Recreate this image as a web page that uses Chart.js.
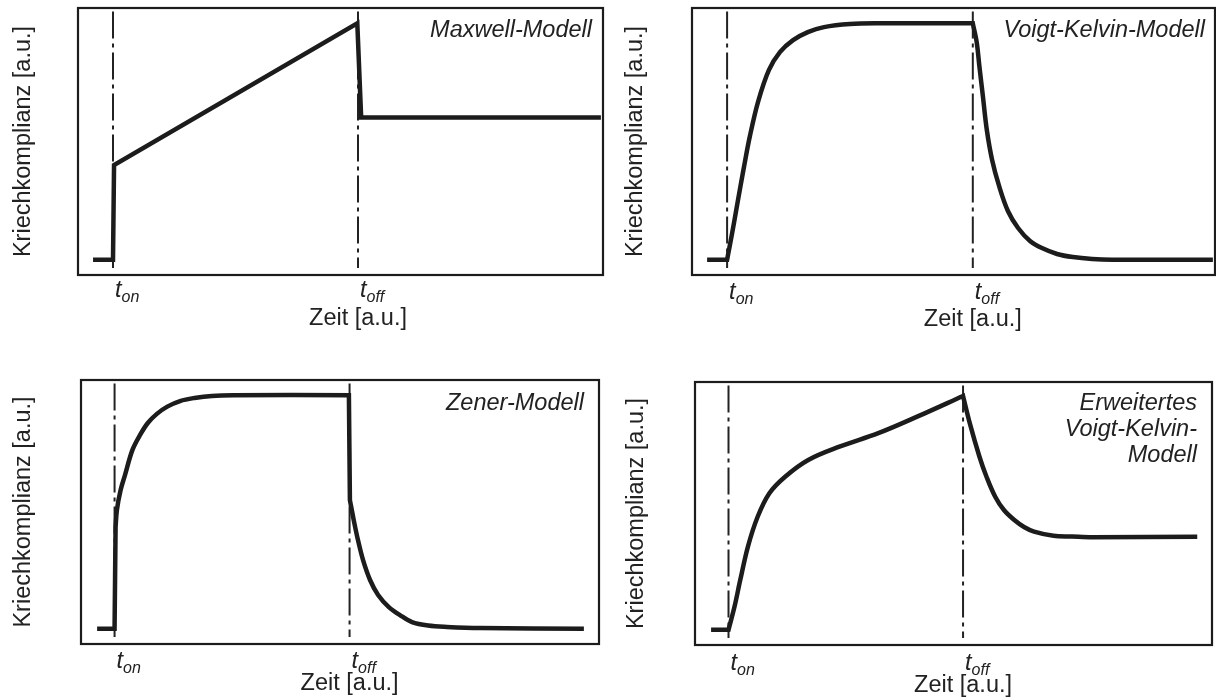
<!DOCTYPE html>
<html>
<head>
<meta charset="utf-8">
<title>Kriechkomplianz</title>
<script src="https://cdn.jsdelivr.net/npm/chart.js@4.4.0/dist/chart.umd.min.js"></script>
<style>
  body { margin: 0; background: #fff; }
  #wrap { position: relative; width: 1216px; height: 700px; overflow: hidden; }
  canvas { position: absolute; }
</style>
</head>
<body>
<div id="wrap">
  <canvas id="c1" width="608" height="340" style="left:0px;top:0px"></canvas>
  <canvas id="c2" width="608" height="340" style="left:608px;top:0px"></canvas>
  <canvas id="c3" width="608" height="360" style="left:0px;top:340px"></canvas>
  <canvas id="c4" width="608" height="360" style="left:608px;top:340px"></canvas>
</div>
<script>
// load switched on / off
var tOn = 1;
var tOff = 8;
var tickLabels = ['on', 'off'];
var xTitle = 'Zeit [a.u.]';
var yTitle = 'Kriechkomplianz [a.u.]';
var modelNames = [
    ['Maxwell-Modell'],
    ['Voigt-Kelvin-Modell'],
    ['Zener-Modell'],
    ['Erweitertes', 'Voigt-Kelvin-', 'Modell']
];

// creep curves (time / compliance in a.u.)
// corner points are listed twice so the smoothing keeps them sharp
var maxwellX = [0.43, 1.0, 1.03, 7.98, 8.09, 14.94];
var maxwellY = [0, 0, 4.0, 10.0, 6.02, 6.02];

var voigtX = [0.43, 1.0, 1.0, 1.08, 1.20, 1.31, 1.48, 1.65, 1.88, 2.19, 2.51, 2.88, 3.30, 3.76, 4.50, 5.30,
    8.0, 8.0, 8.11, 8.19, 8.29, 8.40, 8.55, 8.75, 9.0, 9.29, 9.63, 9.97, 10.4, 10.85, 11.4, 11.97, 14.84];
var voigtY = [0, 0, 0, 0.62, 1.59, 2.52, 3.92, 5.23, 6.67, 8.02, 8.79, 9.29, 9.63, 9.84, 9.97, 10.0,
    10.0, 10.0, 9.21, 8.15, 6.88, 5.48, 4.22, 3.11, 2.06, 1.34, 0.79, 0.49, 0.24, 0.11, 0.03, 0, 0];

var zenerX = [0.48, 1.0, 1.0, 1.03, 1.03, 1.07, 1.18, 1.31, 1.53, 1.76, 1.99, 2.26, 2.57, 2.95, 3.38, 3.90, 4.54,
    7.98, 7.98, 8.01, 8.01, 8.13, 8.25, 8.40, 8.61, 8.85, 9.17, 9.50, 9.86, 10.34, 10.9, 11.89, 14.98];
var zenerY = [0, 0, 0, 4.36, 4.36, 5.09, 5.94, 6.58, 7.65, 8.30, 8.81, 9.20, 9.51, 9.75, 9.88, 9.97, 10.0,
    10.0, 10.0, 5.51, 5.51, 4.61, 3.80, 2.95, 2.09, 1.45, 0.93, 0.59, 0.29, 0.14, 0.08, 0.03, 0];

var extX = [0.48, 1.0, 1.0, 1.18, 1.35, 1.58, 1.87, 2.22, 2.69, 3.38, 4.31, 5.47, 6.63, 8.0, 8.0,
    8.2, 8.49, 8.70, 8.96, 9.22, 9.53, 9.82, 10.12, 10.7, 11.25, 11.86, 14.99];
var extY = [0, 0, 0, 1.0, 2.14, 3.58, 4.86, 5.87, 6.58, 7.30, 7.87, 8.45, 9.16, 10.05, 10.05,
    8.88, 7.44, 6.58, 5.72, 5.15, 4.72, 4.42, 4.22, 4.04, 4.01, 3.98, 4.0];

var yMin = -0.65;
var yMax = 10.65;
var markTop = 10.5;
var markBottom = -0.35;

var fontFamily = '"Liberation Sans", Arial, Helvetica, sans-serif';
var ink = '#1c1c1c';

var panels = [
    { id: 'c1', xs: maxwellX, ys: maxwellY, name: modelNames[0], xMax: 15, tension: 0,
      padTop: 8, padRight: 5, axisW: 78, axisH: 65, yTitlePad: 9, nameInset: 11, nameBase: 29, tBase: 22, zeitBase: 50 },
    { id: 'c2', xs: voigtX, ys: voigtY, name: modelNames[1], xMax: 14.9, tension: 0.35,
      padTop: 8, padRight: 1, axisW: 84, axisH: 65, yTitlePad: 13.5, nameInset: 10, nameBase: 29, tBase: 24, zeitBase: 51 },
    { id: 'c3', xs: zenerX, ys: zenerY, name: modelNames[2], xMax: 15.43, tension: 0.35,
      padTop: 40, padRight: 9, axisW: 81, axisH: 56, yTitlePad: 9, nameInset: 15, nameBase: 30, tBase: 24, zeitBase: 46 },
    { id: 'c4', xs: extX, ys: extY, name: modelNames[3], xMax: 15.43, tension: 0.35,
      padTop: 42, padRight: 4, axisW: 87, axisH: 55, yTitlePad: 14.5, nameInset: 15, nameBase: 28, tBase: 25, zeitBase: 47 }
];

function toPoints(xs, ys) {
    return xs.map(function (x, i) { return { x: x, y: ys[i] }; });
}

function marker(t) {
    return {
        data: [{ x: t, y: markTop }, { x: t, y: markBottom }],
        borderColor: '#222',
        borderWidth: 2,
        borderDash: [27, 5, 4, 5],
        pointRadius: 0,
        tension: 0
    };
}

// frame, model name, t_on / t_off and x title
function framePlugin(p) {
    return {
        id: 'frame',
        afterDatasetsDraw: function (chart) {
            var a = chart.chartArea;
            var ctx = chart.ctx;
            var sx = chart.scales.x;
            ctx.save();
            ctx.strokeStyle = ink;
            ctx.lineWidth = 2.2;
            ctx.strokeRect(a.left, a.top, a.right - a.left, a.bottom - a.top);

            ctx.fillStyle = '#222';
            ctx.textBaseline = 'alphabetic';
            ctx.font = 'italic 23.5px ' + fontFamily;
            ctx.textAlign = 'right';
            p.name.forEach(function (line, i) {
                ctx.fillText(line, a.right - p.nameInset, a.top + p.nameBase + i * 26);
            });

            [tOn, tOff].forEach(function (t, i) {
                var px = sx.getPixelForValue(t) + 2;
                var base = a.bottom + p.tBase;
                ctx.textAlign = 'left';
                ctx.font = 'italic 23.5px ' + fontFamily;
                ctx.fillText('t', px, base);
                var w = ctx.measureText('t').width;
                ctx.font = 'italic 16px ' + fontFamily;
                ctx.fillText(tickLabels[i], px + w, base + 5);
            });

            ctx.font = '23.5px ' + fontFamily;
            ctx.textAlign = 'center';
            ctx.fillText(xTitle, sx.getPixelForValue(tOff), a.bottom + p.zeitBase);
            ctx.restore();
        }
    };
}

function makeChart(p) {
    var ctx = document.getElementById(p.id);
    new Chart(ctx, {
        type: 'line',
        data: {
            datasets: [
                {
                    data: toPoints(p.xs, p.ys),
                    borderColor: ink,
                    borderWidth: 4.5,
                    pointRadius: 0,
                    tension: p.tension,
                    fill: false
                },
                marker(tOn),
                marker(tOff)
            ]
        },
        options: {
            responsive: false,
            animation: false,
            events: [],
            layout: { padding: { left: 0, top: p.padTop, right: p.padRight, bottom: 0 } },
            plugins: { legend: { display: false }, tooltip: { enabled: false } },
            scales: {
                x: {
                    type: 'linear',
                    min: 0,
                    max: p.xMax,
                    grid: { display: false },
                    border: { display: false },
                    ticks: { display: false },
                    afterFit: function (s) { s.height = p.axisH; }
                },
                y: {
                    min: yMin,
                    max: yMax,
                    grid: { display: false },
                    border: { display: false },
                    ticks: { display: false },
                    title: {
                        display: true,
                        text: yTitle,
                        color: '#222',
                        font: { family: fontFamily, size: 23.5 },
                        padding: { top: p.yTitlePad, bottom: 0 }
                    },
                    afterFit: function (s) { s.width = p.axisW; }
                }
            }
        },
        plugins: [framePlugin(p)]
    });
}

panels.forEach(makeChart);
</script>
</body>
</html>
